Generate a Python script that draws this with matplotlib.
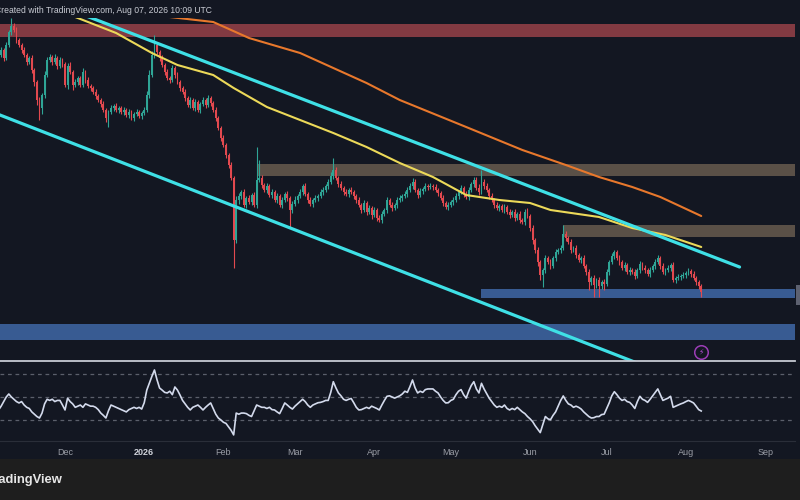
#!/usr/bin/env python3
"""Daily candles in a falling channel with 100/200 MAs and RSI pane (TradingView dark style)."""

import numpy as np
import matplotlib
matplotlib.use("Agg")
import matplotlib.pyplot as plt
import matplotlib.dates as mdates
from matplotlib.patches import Rectangle

plt.rcParams["font.family"] = ["Liberation Sans", "DejaVu Sans"]

# daily candles from 2025-11-05 to 2026-08-07, open = previous close
START = "2025-11-05"
FIRST_OPEN = 340
CLOSE = [
    345, 350, 342, 355, 368, 374, 370, 360, 355, 350,
    345, 338, 342, 330, 318, 300, 292, 305, 325, 340,
    343, 338, 342, 334, 340, 336, 315, 334, 328, 315,
    318, 322, 315, 328, 320, 314, 312, 308, 304, 300,
    296, 290, 282, 288, 292, 294, 290, 292, 288, 290,
    285, 288, 282, 286, 288, 284, 287, 290, 305, 325,
    345, 355, 348, 342, 335, 328, 322, 320, 332, 325,
    318, 312, 308, 302, 295, 300, 292, 298, 290, 296,
    300, 295, 302, 297, 290, 282, 272, 262, 255, 245,
    235, 222, 160, 200, 204, 208, 195, 202, 198, 205,
    195, 220, 222, 215, 210, 214, 205, 208, 200, 204,
    195, 200, 206, 202, 190, 196, 200, 204, 208, 214,
    206, 200, 196, 200, 202, 204, 208, 210, 214, 218,
    224, 230, 222, 216, 212, 208, 206, 210, 208, 204,
    200, 195, 190, 197, 188, 192, 185, 190, 182, 180,
    186, 190, 200, 195, 192, 195, 200, 202, 204, 206,
    210, 214, 218, 210, 205, 209, 211, 214, 213, 214,
    213, 210, 207, 202, 197, 193, 195, 198, 200, 204,
    208, 212, 206, 203, 210, 216, 220, 212, 208, 218,
    214, 210, 204, 200, 195, 192, 194, 190, 193, 188,
    185, 188, 182, 186, 180, 178, 188, 184, 172, 160,
    150, 138, 125, 130, 142, 138, 134, 142, 148, 150,
    152, 166, 162, 158, 150, 152, 145, 140, 142, 134,
    128, 118, 122, 115, 120, 114, 118, 116, 128, 138,
    144, 148, 142, 138, 132, 135, 128, 130, 128, 124,
    130, 136, 132, 130, 126, 130, 134, 138, 142, 134,
    128, 130, 132, 135, 120, 122, 123, 124, 125, 127,
    129, 126, 122, 118, 114, 108,
]
UPPER_WICK = [
    2, 3, 2, 3, 2, 8, 3, 3, 2, 2,
    3, 2, 2, 3, 2, 2, 3, 2, 4, 3,
    3, 2, 4, 2, 3, 2, 2, 3, 4, 2,
    3, 2, 2, 4, 2, 3, 2, 2, 3, 2,
    2, 3, 2, 2, 3, 2, 3, 2, 2, 3,
    2, 3, 2, 2, 3, 2, 2, 3, 4, 5,
    4, 10, 3, 2, 3, 2, 3, 2, 3, 2,
    3, 2, 2, 3, 2, 3, 2, 3, 2, 2,
    3, 2, 3, 2, 2, 3, 2, 2, 3, 2,
    2, 3, 2, 4, 3, 2, 3, 2, 3, 2,
    3, 33, 18, 3, 2, 3, 2, 3, 2, 3,
    2, 3, 2, 3, 2, 3, 4, 2, 3, 2,
    3, 2, 3, 2, 3, 2, 3, 3, 2, 3,
    4, 12, 3, 2, 3, 2, 3, 2, 3, 2,
    2, 3, 2, 3, 2, 3, 2, 3, 2, 3,
    3, 2, 3, 2, 3, 2, 3, 3, 2, 3,
    3, 3, 4, 3, 2, 3, 2, 3, 2, 3,
    2, 3, 2, 2, 3, 2, 3, 2, 3, 3,
    2, 3, 2, 3, 3, 2, 3, 3, 4, 12,
    3, 3, 2, 3, 2, 3, 2, 2, 3, 2,
    3, 2, 3, 2, 3, 2, 3, 4, 2, 3,
    2, 3, 2, 2, 3, 2, 3, 2, 3, 2,
    3, 9, 3, 2, 3, 2, 3, 2, 2, 3,
    2, 3, 2, 3, 2, 3, 2, 3, 3, 2,
    3, 2, 2, 3, 2, 3, 2, 3, 2, 3,
    2, 3, 2, 3, 2, 3, 2, 3, 3, 2,
    3, 2, 3, 2, 3, 2, 3, 2, 3, 2,
    3, 2, 3, 2, 2, 2,
]
LOWER_WICK = [
    3, 2, 3, 2, 2, 3, 2, 3, 2, 3,
    2, 3, 2, 3, 4, 5, 12, 6, 3, 2,
    2, 3, 2, 3, 2, 3, 2, 4, 2, 5,
    2, 3, 2, 2, 3, 2, 3, 2, 3, 2,
    3, 2, 4, 9, 2, 3, 2, 3, 2, 3,
    2, 3, 2, 3, 2, 2, 3, 2, 2, 3,
    2, 3, 2, 3, 2, 3, 2, 3, 2, 3,
    2, 3, 2, 3, 2, 3, 2, 3, 2, 3,
    2, 3, 2, 3, 2, 3, 2, 3, 2, 3,
    3, 2, 28, 3, 4, 3, 2, 3, 2, 3,
    2, 3, 2, 3, 2, 3, 2, 3, 2, 3,
    2, 3, 2, 3, 17, 3, 2, 3, 2, 3,
    2, 3, 2, 3, 2, 3, 2, 3, 2, 3,
    2, 3, 2, 3, 2, 3, 2, 3, 2, 3,
    3, 2, 3, 2, 3, 2, 4, 2, 3, 2,
    3, 2, 3, 2, 3, 2, 3, 2, 3, 2,
    3, 2, 3, 2, 3, 2, 3, 2, 3, 2,
    3, 2, 3, 2, 3, 2, 3, 2, 3, 2,
    3, 2, 3, 2, 3, 2, 3, 2, 3, 2,
    3, 2, 3, 2, 3, 2, 3, 2, 3, 2,
    3, 2, 3, 2, 3, 2, 3, 2, 3, 4,
    3, 4, 5, 12, 3, 2, 3, 2, 3, 2,
    3, 2, 3, 2, 3, 2, 3, 2, 3, 2,
    3, 8, 3, 12, 3, 11, 3, 6, 2, 3,
    2, 3, 2, 3, 2, 3, 2, 3, 2, 3,
    2, 3, 2, 3, 2, 3, 2, 3, 2, 3,
    2, 3, 2, 3, 2, 3, 2, 3, 2, 3,
    2, 3, 2, 3, 3, 5,
]
RSI = [
    38.7, 42, 46, 50, 52.6, 50, 48, 46, 44.8, 46,
    43, 41, 40, 37, 35, 33, 31.7, 36, 44, 48,
    47, 48, 46, 47, 47, 43, 38.7, 49, 46, 44,
    41, 42, 43, 41, 44, 43, 42, 42, 41, 39,
    36, 34, 31.7, 38, 43, 42, 41, 40, 39, 38,
    37, 39, 40, 41, 40, 41, 39.5, 45, 56, 62,
    68, 73.5, 65, 57.8, 56, 54, 53.5, 55, 52, 58.7,
    56, 51.7, 47, 44, 41, 38.7, 41, 42, 43, 41,
    38.7, 41, 43, 44.8, 40, 35, 31.7, 30, 28, 27,
    24, 21, 17, 36, 35, 36, 36, 35.5, 34, 33,
    38, 43, 42, 41, 41, 40, 41, 39, 38.7, 37,
    35.5, 40, 44.8, 43, 41, 39.5, 42, 44, 46, 48,
    46, 43, 41, 43, 44, 45, 45.3, 46, 47, 47,
    54, 63.3, 58, 53.5, 51, 48, 47, 48, 48.7, 45,
    41, 38.7, 39, 40, 41, 40, 42, 41, 40, 38.7,
    43, 47, 50.6, 51, 50, 49, 50, 51, 52.6, 55,
    54, 59, 64.8, 58, 53.5, 55, 54, 56.4, 57, 57,
    57, 55, 53.5, 50, 47, 44.8, 45, 47, 48, 52,
    55, 56.4, 52, 49, 55, 60, 63.3, 57, 53.5, 61.9,
    57, 53, 49, 46, 43, 41, 42, 41, 43, 40,
    38.7, 40, 39, 41, 39, 37, 35.5, 33, 31, 28.6,
    25, 22, 19, 26, 33, 31, 30.2, 34, 37, 42,
    47, 50.9, 47, 44, 43, 41, 42, 41, 39.5, 37,
    35, 33, 31.7, 32, 33, 33, 34.7, 35, 40, 45,
    51, 54.6, 52, 49, 47, 48, 46, 45.3, 43, 40,
    46, 50.6, 48, 47, 45.3, 48, 51, 54, 57, 52,
    47, 48, 49, 50.6, 41, 42, 43, 44, 44.8, 46,
    47, 46, 44.8, 42, 39, 37.8,
]

# moving averages (yellow 100, orange 200), read at a few dates
MA_FAST_DATES = ["2025-12-03", "2025-12-21", "2026-01-04", "2026-01-14", "2026-01-28",
                 "2026-02-05", "2026-02-18", "2026-03-03", "2026-03-16", "2026-03-29",
                 "2026-04-11", "2026-04-24", "2026-05-07", "2026-05-20", "2026-06-01",
                 "2026-06-09", "2026-06-28", "2026-07-11", "2026-07-24", "2026-08-07"]
MA_FAST = [385, 367, 347, 335, 325, 312, 293, 280, 267, 253,
           237, 223, 205, 200, 197, 190, 183, 172, 165, 153]
MA_SLOW_DATES = ["2025-12-26", "2026-01-11", "2026-01-28", "2026-02-11", "2026-03-03",
                 "2026-03-16", "2026-03-29", "2026-04-11", "2026-05-07", "2026-05-29",
                 "2026-06-15", "2026-06-28", "2026-07-11", "2026-07-22", "2026-08-07"]
MA_SLOW = [384, 383, 378, 362, 347, 332, 317, 300, 273, 250,
           235, 223, 213, 203, 184]

# channel trend lines
CH_UPPER_DATES = ["2025-11-21", "2026-08-22"]
CH_UPPER = [402, 133]
CH_LOWER_DATES = ["2025-11-01", "2026-08-01"]
CH_LOWER = [289.5, 18]

# supply / demand boxes (all extend to the right edge)
ZONE_START = ["2025-10-01", "2026-02-14", "2026-06-14", "2026-05-13", "2025-10-01"]
ZONE_LOW = [363, 224, 163, 102, 60]
ZONE_HIGH = [376, 236, 175, 111, 76]
ZONE_COLORS = ["#823a42", "#5a5047", "#5a5047", "#385b92", "#385b92"]

MONTH_TICKS = ["2025-12-01", "2026-01-01", "2026-02-01", "2026-03-01", "2026-04-01",
               "2026-05-01", "2026-06-01", "2026-07-01", "2026-08-01", "2026-09-01"]
MONTH_LABELS = ["Dec", "2026", "Feb", "Mar", "Apr", "May", "Jun", "Jul", "Aug", "Sep"]

BG = "#131722"
UP = "#2fa596"
DOWN = "#e2494f"

assert len(CLOSE) == len(UPPER_WICK) == len(LOWER_WICK) == len(RSI), \
    (len(CLOSE), len(UPPER_WICK), len(LOWER_WICK), len(RSI))


def dnum(dates):
    return mdates.date2num(np.array(dates, dtype="datetime64[D]"))


close = np.array(CLOSE, dtype=float)
opens = np.r_[FIRST_OPEN, close[:-1]]
t = dnum(np.datetime64(START) + np.arange(len(close)))
up = close >= opens
colors = np.where(up, UP, DOWN)
body_lo = np.minimum(opens, close)
body_hi = np.maximum(opens, close)
high = body_hi + np.array(UPPER_WICK)
low = body_lo - np.array(LOWER_WICK)

x_left = t[0] + 0.55
x_right = t[0] + 311.7

W, H = 800, 500
fig = plt.figure(figsize=(8, 5), dpi=100, facecolor=BG)
ax = fig.add_axes([0, 1 - 361 / H, 795 / W, 343 / H], facecolor=BG)
rx = fig.add_axes([0, 1 - 441 / H, 795 / W, 80 / H], facecolor=BG, sharex=ax)

# zones
for s, lo, hi, c in zip(ZONE_START, ZONE_LOW, ZONE_HIGH, ZONE_COLORS):
    x0 = dnum(s)
    ax.add_patch(Rectangle((x0, lo), x_right - x0, hi - lo, facecolor=c,
                           edgecolor="none", zorder=1))

# candles
ax.vlines(t, low, high, colors=colors, lw=0.8, zorder=2)
ax.bar(t, np.maximum(body_hi - body_lo, 0.8), bottom=body_lo, width=0.74,
       color=colors, linewidth=0, zorder=3)

# moving averages and channel
ax.plot(dnum(MA_SLOW_DATES), MA_SLOW, color="#e8782c", lw=1.5, zorder=4,
        solid_capstyle="round", solid_joinstyle="round")
ax.plot(dnum(MA_FAST_DATES), MA_FAST, color="#ecd959", lw=1.5, zorder=4,
        solid_capstyle="round", solid_joinstyle="round")
ax.plot(dnum(CH_UPPER_DATES), CH_UPPER, color="#3fe0e6", lw=2.3, zorder=5,
        solid_capstyle="round")
ax.plot(dnum(CH_LOWER_DATES), CH_LOWER, color="#3fe0e6", lw=2.3, zorder=5)

ax.set_xlim(x_left, x_right)
ax.set_ylim(39, 382)
ax.set_yticks([])
ax.tick_params(axis="x", length=0, labelbottom=False)
for sp in ax.spines.values():
    sp.set_visible(False)

# alert icon
ax.scatter([701 / 795], [9 / 343], s=95, transform=ax.transAxes, facecolor=BG,
           edgecolor="#9b3db6", linewidth=1.1, zorder=6, clip_on=False)
ax.text(701 / 795, 9 / 343, "\u26a1", transform=ax.transAxes, ha="center",
        va="center", fontsize=5.5, color="#b04fd0", zorder=7,
        family=["DejaVu Sans"])

# RSI pane
for lvl in (70, 50, 30):
    rx.axhline(lvl, color="#5b5f6b", lw=0.9, dashes=(3, 3), zorder=1)
rx.plot(t, RSI, color="#d3daec", lw=1.2, zorder=3)
rx.set_ylim(11.7, 81.3)
rx.set_yticks([])
rx.set_xticks(dnum(MONTH_TICKS))
rx.set_xticklabels(MONTH_LABELS)
rx.tick_params(axis="x", length=0, pad=5, labelsize=6.5, colors="#9a9da6")
lbl = rx.get_xticklabels()[1]
lbl.set_fontweight("bold")
lbl.set_color("#cfd2da")
for side in ("left", "right"):
    rx.spines[side].set_visible(False)
rx.spines["top"].set_color("#c6cad3")
rx.spines["top"].set_linewidth(1.3)
rx.spines["bottom"].set_color("#2a2e39")
rx.spines["bottom"].set_linewidth(0.8)
rx.set_xlim(x_left, x_right)

# chrome: header text, footer bar, price-scale marker
fig.text(-5 / W, 1 - 10.5 / H, "Created with TradingView.com, Aug 07, 2026 10:09 UTC",
         fontsize=6.2, color="#c9ccd4", va="center", ha="left")
fig.add_artist(Rectangle((0, 0), 1, 41 / H, transform=fig.transFigure,
                         facecolor="#1e1e1e", edgecolor="none"))
fig.text(-13 / W, 1 - 480 / H, "TradingView", fontsize=9.4, fontweight="bold",
         color="#e6e6e6", va="center", ha="left")
fig.add_artist(Rectangle((796 / W, 1 - 305 / H), 4 / W, 20 / H, transform=fig.transFigure,
                         facecolor="#5d6170", edgecolor="none"))

fig.savefig("out.png", dpi=100, facecolor=BG)
